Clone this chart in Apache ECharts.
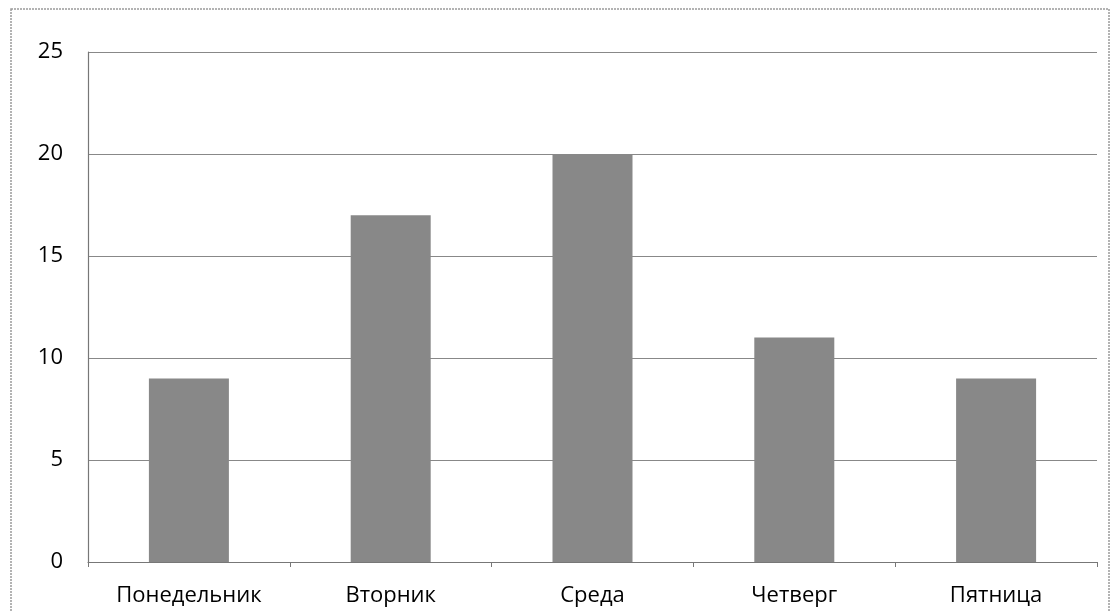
<!DOCTYPE html>
<html><head><meta charset="utf-8">
<script src="https://cdn.jsdelivr.net/npm/echarts@6/dist/echarts.min.js"></script>
<style>html,body{margin:0;padding:0;background:#fff}#c{width:1110px;height:612px}</style>
</head><body><div id="c"></div>
<script>
const categories = ['Понедельник', 'Вторник', 'Среда', 'Четверг', 'Пятница'];
const values = [9, 17, 20, 11, 9];
const yTicks = [0, 5, 10, 15, 20, 25];

const chart = echarts.init(document.getElementById('c'));
chart.setOption({
  animation: false,
  backgroundColor: '#fff',
  graphic: [{
    type: 'rect', shape: {x: 11, y: 9, width: 1098, height: 640},
    style: {fill: 'none', stroke: '#9a9a9a', lineWidth: 1.5, lineDash: [2, 1]}, silent: true
  }],
  grid: {left: 88, right: 13, top: 52, bottom: 50, containLabel: false},
  xAxis: {
    type: 'category', data: categories,
    axisLine: {lineStyle: {color: '#777', width: 1.2}},
    axisTick: {show: true, length: 5, lineStyle: {color: '#777'}},
    axisLabel: {color: '#000', fontSize: 22, fontFamily: 'Open Sans', margin: 23}
  },
  yAxis: {
    type: 'value', min: yTicks[0], max: yTicks[yTicks.length - 1], interval: 5,
    axisLine: {show: true, lineStyle: {color: '#777', width: 1.2}},
    axisTick: {show: false},
    splitLine: {lineStyle: {color: '#888', width: 1.2}},
    axisLabel: {color: '#000', fontSize: 22, fontFamily: 'Open Sans', margin: 25}
  },
  series: [{
    type: 'bar', data: values, barWidth: 80,
    itemStyle: {color: '#888888'}
  }]
});
</script></body></html>
